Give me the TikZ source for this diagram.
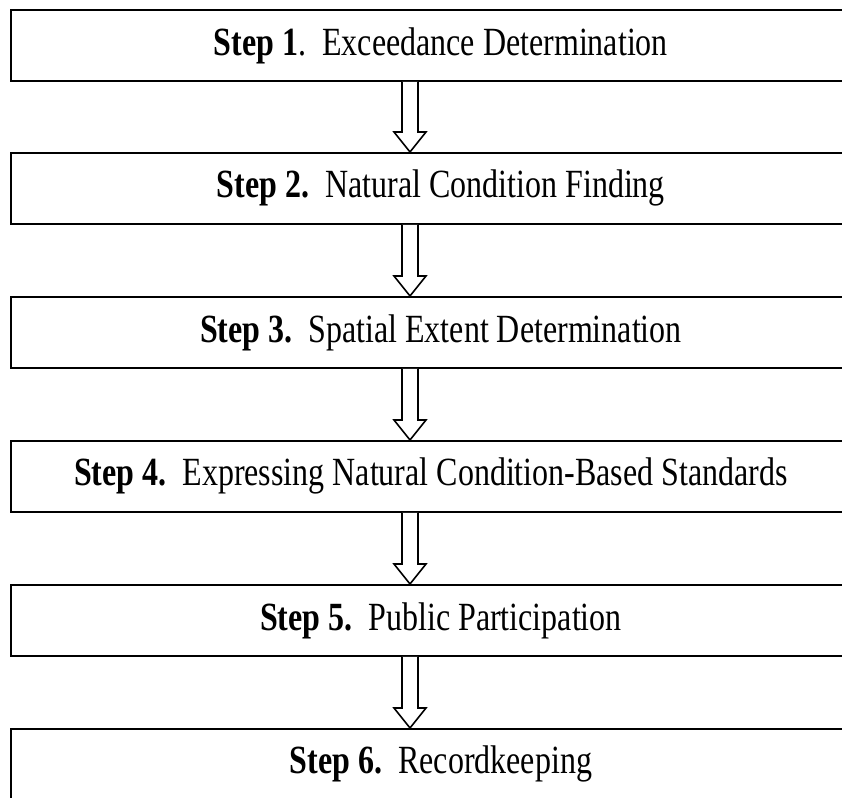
\documentclass[tikz,border=0pt]{standalone}
\usepackage{fontspec}
\setmainfont{Liberation Serif}
\usetikzlibrary{calc}
\newcommand\tallcaps[1]{\scalebox{1}[1.25]{#1}}
\tikzset{
  stepbox/.style={draw=black, line width=1.8pt, minimum width=860pt, minimum height=71pt,
    anchor=north west, inner sep=0pt, font=\fontsize{32}{38}\selectfont},
  hollow/.style={draw=black, line width=1.6pt, line join=miter, fill=white}
}
\newcommand\hollowarrow[2]{%
  \draw[hollow] ($(#1.south west)+(392pt,0)$) -- ($(#2.north west)+(392pt,20pt)$)
    -- ($(#2.north west)+(384pt,20pt)$) -- ($(#2.north west)+(400pt,0)$)
    -- ($(#2.north west)+(416pt,20pt)$) -- ($(#2.north west)+(408pt,20pt)$)
    -- ($(#1.south west)+(408pt,0)$);}
\begin{document}
\begin{tikzpicture}[x=1pt,y=1pt]
\useasboundingbox (0,0) rectangle (842,-797);
\clip (0,0) rectangle (842,-797);
\node[stepbox] (s1) at (10,-9)   {\tallcaps{\textbf{Step 1}.\ \ Exceedance Determination}};
\node[stepbox] (s2) at (10,-152) {\tallcaps{\textbf{Step 2.}\ \ Natural Condition Finding}};
\node[stepbox] (s3) at (10,-296) {\tallcaps{\textbf{Step 3.}\ \ Spatial Extent Determination}};
\node[stepbox] (s4) at (10,-440) {\hspace*{-20pt}\tallcaps{\textbf{Step 4.}\ \ Expressing Natural Condition-Based Standards}};
\node[stepbox] (s5) at (10,-584) {\tallcaps{\textbf{Step 5.}\ \ Public Participation}};
\node[stepbox] (s6) at (10,-728) {\tallcaps{\textbf{Step 6.}\ \ Recordkeeping}};
\hollowarrow{s1}{s2}
\hollowarrow{s2}{s3}
\hollowarrow{s3}{s4}
\hollowarrow{s4}{s5}
\hollowarrow{s5}{s6}
\end{tikzpicture}
\end{document}
